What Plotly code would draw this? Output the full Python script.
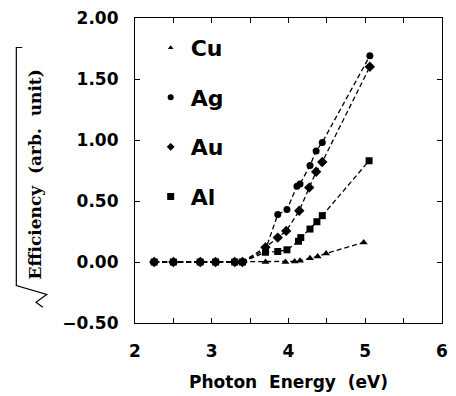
import plotly.graph_objects as go

# ---- data ----
low_x = [2.25, 2.5, 2.85, 3.05, 3.3, 3.4]
low_y = [0, 0, 0, 0, 0, 0]

cu_x = low_x + [3.7, 3.96, 4.08, 4.15, 4.28, 4.38, 4.49, 4.98]
cu_y = low_y + [0.0, 0.0, 0.005, 0.01, 0.03, 0.045, 0.07, 0.16]

ag_x = low_x + [3.7, 3.86, 3.98, 4.11, 4.15, 4.28, 4.36, 4.44, 5.06]
ag_y = low_y + [0.10, 0.39, 0.43, 0.62, 0.64, 0.79, 0.91, 0.98, 1.69]

au_x = low_x + [3.7, 3.86, 3.97, 4.14, 4.27, 4.36, 4.44, 5.06]
au_y = low_y + [0.12, 0.20, 0.255, 0.42, 0.61, 0.74, 0.82, 1.60]

al_x = low_x + [3.70, 3.86, 3.98, 4.13, 4.16, 4.28, 4.37, 4.44, 5.05]
al_y = low_y + [0.08, 0.086, 0.10, 0.17, 0.20, 0.27, 0.33, 0.38, 0.83]

series_names = ["Cu", "Ag", "Au", "Al"]
series_symbols = ["triangle-up", "circle", "diamond", "square"]

x_tickvals = [2, 2.5, 3, 3.5, 4, 4.5, 5, 5.5, 6]
x_ticktext = ["2", "", "3", "", "4", "", "5", "", "6"]
y_tickvals = [-0.5, 0, 0.5, 1.0, 1.5, 2.0]
y_ticktext = ["\u22120.50", "0.00", "0.50", "1.00", "1.50", "2.00"]

x_title = "Photon  Energy  (eV)"
y_title = "Efficiency  (arb.  unit)"

# ---- figure ----
W, H = 456, 396
ML, MR, MT, MB = 135, 8, 13, 73
PW, PH = W - ML - MR, H - MT - MB


def px(xp):
    return (xp - ML) / PW


def py(yp):
    return (H - MB - yp) / PH


fig = go.Figure()
data = [(cu_x, cu_y, 7), (ag_x, ag_y, 7), (au_x, au_y, 8), (al_x, al_y, 7)]
for (xs, ys, ms), name, sym in zip(data, series_names, series_symbols):
    fig.add_trace(go.Scatter(
        x=xs, y=ys, mode="lines+markers", showlegend=False,
        line=dict(color="black", width=1.3, dash="5px,3px"),
        marker=dict(symbol=sym, size=ms, color="black"),
    ))

leg_sizes = [5, 6, 6, 7]
for i, (name, sym) in enumerate(zip(series_names, series_symbols)):
    fig.add_trace(go.Scatter(
        x=[None], y=[None], mode="markers", name=name, legendgroup=name,
        marker=dict(symbol=sym, size=leg_sizes[i], color="black"),
    ))

axis_common = dict(
    showgrid=False, zeroline=False, showline=True, linecolor="black",
    linewidth=1.2, mirror="ticks", ticks="inside", ticklen=5,
    tickcolor="black", tickwidth=1.2,
    tickfont=dict(family="DejaVu Sans", size=17, color="black", weight="bold"),
)

fig.update_layout(
    width=W, height=H,
    margin=dict(l=ML, r=MR, t=MT, b=MB),
    paper_bgcolor="white", plot_bgcolor="white",
    showlegend=True,
    legend=dict(
        x=px(151), y=py(22), xanchor="left", yanchor="top",
        bgcolor="rgba(0,0,0,0)", borderwidth=0,
        font=dict(family="DejaVu Sans", size=22, color="black", weight="bold"),
        tracegroupgap=18, itemsizing="trace",
    ),
    xaxis=dict(range=[2, 6], tickvals=x_tickvals, ticktext=x_ticktext,
               ticklabelstandoff=12,
               title=dict(text=x_title, standoff=16,
                          font=dict(family="DejaVu Sans", size=17,
                                    color="black", weight="bold")),
               **axis_common),
    yaxis=dict(range=[-0.5, 2.0], tickvals=y_tickvals, ticktext=y_ticktext,
               ticklabelstandoff=12,
               **axis_common),
)

fig.add_annotation(
    text=y_title, textangle=-90, xref="paper", yref="paper",
    x=px(33), y=py(172), xanchor="center", yanchor="middle", showarrow=False,
    font=dict(family="DejaVu Serif", size=17, color="black", weight="bold"),
)

pts = [(20, 43), (14, 43), (14, 285), (45, 294), (34, 302), (41, 307)]
path = "M " + " L ".join(f"{px(a):.5f},{py(b):.5f}" for a, b in pts)
fig.add_shape(type="path", path=path, xref="paper", yref="paper",
              line=dict(color="black", width=1.2))

fig.write_html("out.html")
